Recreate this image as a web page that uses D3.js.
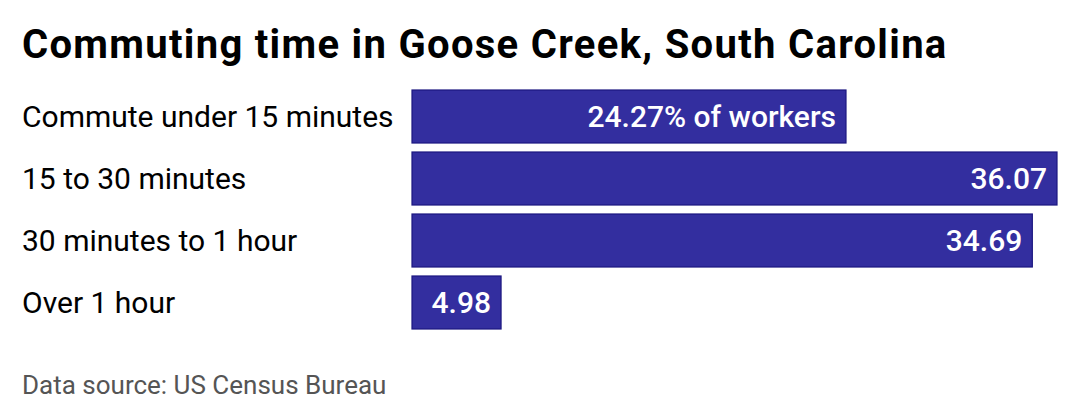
<!DOCTYPE html>
<html>
<head>
<meta charset="utf-8">
<script src="https://cdn.jsdelivr.net/npm/d3@7"></script>
<style>
  body { margin: 0; background: #fff; }
  text { font-family: Roboto, sans-serif; }
</style>
</head>
<body>
<div id="chart"></div>
<script>
var categories = ["Commute under 15 minutes", "15 to 30 minutes", "30 minutes to 1 hour", "Over 1 hour"];
var values = [24.27, 36.07, 34.69, 4.98];
var valueLabels = ["24.27% of workers", "36.07", "34.69", "4.98"];

var width = 1080, height = 420;
var margin = {top: 90, left: 412, right: 23, bottom: 91};

var svg = d3.select("#chart")
    .append("svg")
    .attr("width", width)
    .attr("height", height);

svg.append("text")
    .attr("x", 22)
    .attr("y", 58)
    .attr("font-size", 40)
    .attr("font-weight", "bold")
    .attr("letter-spacing", 1.3)
    .attr("fill", "#000")
    .text("Commuting time in Goose Creek, South Carolina");

var x = d3.scaleLinear()
    .domain([0, d3.max(values)])
    .range([margin.left, width - margin.right]);

var y = d3.scaleBand()
    .domain(categories)
    .range([margin.top, height - margin.bottom])
    .paddingInner(0.145)
    .paddingOuter(0);

var rows = svg.selectAll(".row")
    .data(categories)
    .enter()
    .append("g")
    .attr("class", "row");

rows.append("rect")
    .attr("x", x(0))
    .attr("y", function(d) { return y(d); })
    .attr("width", function(d, i) { return x(values[i]) - x(0); })
    .attr("height", y.bandwidth())
    .attr("fill", "#332e9f")
    .attr("stroke", "#1c1780")
    .attr("stroke-width", 1.2);

rows.append("text")
    .attr("x", 22)
    .attr("y", function(d) { return y(d) + y.bandwidth() / 2; })
    .attr("dy", "0.35em")
    .attr("font-size", 30)
    .attr("fill", "#000")
    .text(function(d) { return d; });

rows.append("text")
    .attr("x", function(d, i) { return x(values[i]) - 10; })
    .attr("y", function(d) { return y(d) + y.bandwidth() / 2; })
    .attr("dy", "0.35em")
    .attr("text-anchor", "end")
    .attr("font-size", 30)
    .attr("font-weight", 500)
    .attr("fill", "#fff")
    .text(function(d, i) { return valueLabels[i]; });

svg.append("text")
    .attr("x", 22)
    .attr("y", 394)
    .attr("font-size", 26)
    .attr("fill", "#555")
    .text("Data source: US Census Bureau");
</script>
</body>
</html>
